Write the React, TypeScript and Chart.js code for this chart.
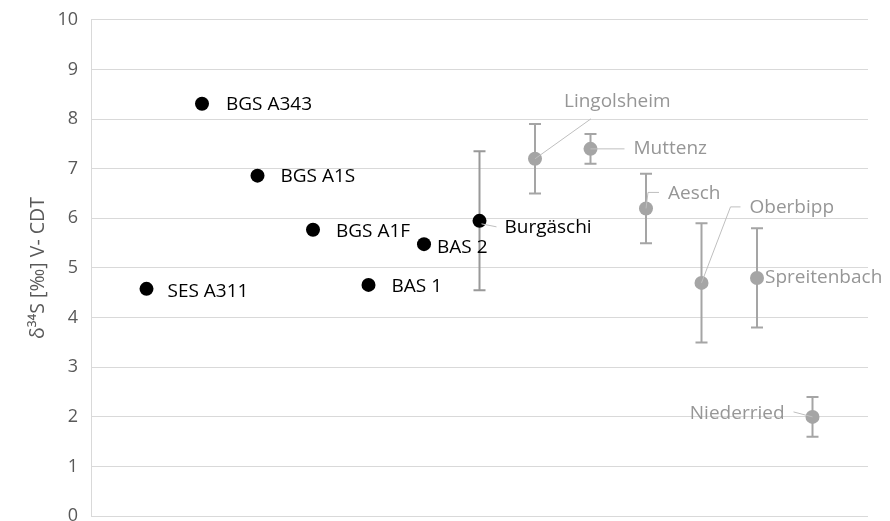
import React, { useEffect, useRef } from "react";
import { Chart, registerables } from "chart.js";

Chart.register(...registerables);

// ---- Data ----
const sites = [
  "SES A311", "BGS A343", "BGS A1S", "BGS A1F", "BAS 1", "BAS 2", "Burgäschi",
  "Lingolsheim", "Muttenz", "Aesch", "Oberbipp", "Spreitenbach", "Niederried",
];
const positions = [1, 2, 3, 4, 5, 6, 7, 8, 9, 10, 11, 12, 13];
const d34S = [4.58, 8.31, 6.86, 5.77, 4.66, 5.48, 5.95, 7.2, 7.4, 6.2, 4.7, 4.8, 2.0];
const errLow: (number | null)[] = [null, null, null, null, null, null, 4.55, 6.5, 7.1, 5.5, 3.5, 3.8, 1.6];
const errHigh: (number | null)[] = [null, null, null, null, null, null, 7.35, 7.9, 7.7, 6.9, 5.9, 5.8, 2.4];
const group = ["A", "A", "A", "A", "A", "A", "A", "B", "B", "B", "B", "B", "B"];
const yTicks = [0, 1, 2, 3, 4, 5, 6, 7, 8, 9, 10];
const yTitle = "δ³⁴S [‰] V- CDT";

// ---- Label layout (pixel offsets from the point) ----
type LabelLayout = { dx: number; dy: number; align: CanvasTextAlign; leader?: number[][] };
const labelLayout: Record<string, LabelLayout> = {
  "SES A311": { dx: 21, dy: 3, align: "left" },
  "BGS A343": { dx: 24, dy: 1, align: "left" },
  "BGS A1S": { dx: 23, dy: 1, align: "left" },
  "BGS A1F": { dx: 23, dy: 2, align: "left" },
  "BAS 1": { dx: 23, dy: 2, align: "left" },
  "BAS 2": { dx: 13, dy: 3, align: "left" },
  "Burgäschi": { dx: 25, dy: 7, align: "left", leader: [[2, 3], [17, 6]] },
  "Lingolsheim": { dx: 29, dy: -57, align: "left", leader: [[0, 0], [56, -40]] },
  "Muttenz": { dx: 43, dy: 0, align: "left", leader: [[0, 0], [34, 0]] },
  "Aesch": { dx: 22, dy: -15, align: "left", leader: [[0, 0], [2, -16], [13, -16]] },
  "Oberbipp": { dx: 48, dy: -75, align: "left", leader: [[0, 0], [29, -76], [39, -76]] },
  "Spreitenbach": { dx: 8, dy: 0, align: "left" },
  "Niederried": { dx: -28, dy: -3, align: "right", leader: [[-19, -5], [0, 0]] },
};

const BLACK = "#000000";
const GREY = "#A5A5A5";
const GREY_TEXT = "#969696";
const FONT = "'Open Sans', 'DejaVu Sans', sans-serif";

const idxA = sites.map((_, i) => i).filter((i) => group[i] === "A");
const idxB = sites.map((_, i) => i).filter((i) => group[i] === "B");

const errorBarPlugin = {
  id: "errorBars",
  beforeDatasetsDraw(chart: any) {
    const { ctx, scales } = chart;
    const xs = scales.x, ys = scales.y;
    ctx.save();
    ctx.lineWidth = 2;
    sites.forEach((_, i) => {
      if (errLow[i] == null || errHigh[i] == null) return;
      const x = xs.getPixelForValue(positions[i]);
      const y1 = ys.getPixelForValue(errLow[i] as number);
      const y2 = ys.getPixelForValue(errHigh[i] as number);
      ctx.strokeStyle = group[i] === "A" ? "#999999" : GREY;
      ctx.beginPath();
      ctx.moveTo(x, y1);
      ctx.lineTo(x, y2);
      ctx.moveTo(x - 6, y1);
      ctx.lineTo(x + 6, y1);
      ctx.moveTo(x - 6, y2);
      ctx.lineTo(x + 6, y2);
      ctx.stroke();
    });
    ctx.restore();
  },
};

const labelPlugin = {
  id: "pointLabels",
  afterDatasetsDraw(chart: any) {
    const { ctx, scales } = chart;
    const xs = scales.x, ys = scales.y;
    ctx.save();
    sites.forEach((name, i) => {
      const L = labelLayout[name];
      const px = xs.getPixelForValue(positions[i]);
      const py = ys.getPixelForValue(d34S[i]);
      if (L.leader) {
        ctx.strokeStyle = "#BFBFBF";
        ctx.lineWidth = 1;
        ctx.beginPath();
        L.leader.forEach((p, k) => {
          if (k === 0) ctx.moveTo(px + p[0], py + p[1]);
          else ctx.lineTo(px + p[0], py + p[1]);
        });
        ctx.stroke();
      }
      ctx.font = `19px ${FONT}`;
      ctx.fillStyle = group[i] === "A" ? BLACK : GREY_TEXT;
      ctx.textAlign = L.align;
      ctx.textBaseline = "middle";
      ctx.fillText(name, px + L.dx, py + L.dy);
    });
    ctx.restore();
  },
};

export default function App() {
  const ref = useRef<HTMLCanvasElement | null>(null);
  useEffect(() => {
    document.body.style.margin = "0";
    if (!ref.current) return;
    const chart = new Chart(ref.current, {
      type: "scatter",
      data: {
        datasets: [
          {
            label: "A",
            data: idxA.map((i) => ({ x: positions[i], y: d34S[i] })),
            backgroundColor: BLACK,
            borderColor: BLACK,
            pointRadius: 7,
            pointHoverRadius: 7,
            borderWidth: 0,
          },
          {
            label: "B",
            data: idxB.map((i) => ({ x: positions[i], y: d34S[i] })),
            backgroundColor: GREY,
            borderColor: GREY,
            pointRadius: 7,
            pointHoverRadius: 7,
            borderWidth: 0,
          },
        ],
      },
      options: {
        animation: false,
        responsive: false,
        maintainAspectRatio: false,
        layout: { padding: { top: 14, right: 22, bottom: 15, left: 0 } },
        plugins: { legend: { display: false }, tooltip: { enabled: false } },
        scales: {
          x: { type: "linear", min: 0, max: 14, display: false },
          y: {
            min: 0,
            max: 10,
            afterBuildTicks: (s: any) => {
              s.ticks = yTicks.map((v) => ({ value: v }));
            },
            afterFit: (s: any) => {
              s.width = 91;
            },
            ticks: { color: "#595959", font: { family: FONT, size: 18 }, padding: 13 },
            grid: { color: "#D9D9D9", drawTicks: false, lineWidth: 1 },
            border: { display: true, color: "#D9D9D9" },
            title: {
              display: true,
              text: yTitle,
              color: "#595959",
              font: { family: FONT, size: 19.5 },
              padding: { top: 27, bottom: 0 },
            },
          },
        },
      },
      plugins: [errorBarPlugin, labelPlugin],
    });
    return () => chart.destroy();
  }, []);
  return (
    <div style={{ width: 890, height: 521, overflow: "hidden", background: "#fff" }}>
      <canvas ref={ref} width={890} height={544} style={{ display: "block", marginTop: -4 }} />
    </div>
  );
}
